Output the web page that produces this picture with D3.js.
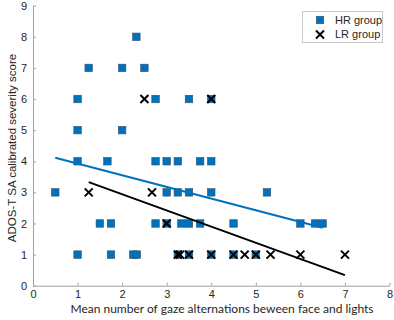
<!DOCTYPE html>
<html><head><meta charset="utf-8">
<script src="https://cdn.jsdelivr.net/npm/d3@7"></script>
<style>body{margin:0;background:#fff}svg{display:block}</style>
</head><body><svg id="c" width="394" height="320"></svg>
<script>
const hrX = [2.32, 1.25,2.0,2.5, 1.0,2.75,3.5,4.0, 1.0,2.0,
  1.0,1.67,2.75,3.0,3.25,3.75,4.0,
  0.5,3.0,3.25,3.5,4.0,5.25,
  1.5,1.75,2.75,3.0,3.33,3.5,3.75,4.5,6.0,6.33,6.5,
  1.0,1.75,2.25,2.33,3.25,3.5,4.0,4.5,5.0];
const hrY = [8, 7,7,7, 6,6,6,6, 5,5,
  4,4,4,4,4,4,4,
  3,3,3,3,3,3,
  2,2,2,2,2,2,2,2,2,2,2,
  1,1,1,1,1,1,1,1,1];
const lrX = [2.5,4.0, 1.25,2.67, 3.0, 3.25,3.3,3.5,4.0,4.5,4.75,5.0,5.33,6.0,7.0];
const lrY = [6,6, 3,3, 2, 1,1,1,1,1,1,1,1,1,1];
const hrFitX = [0.5, 6.5], hrFitY = [4.11, 1.86];
const lrFitX = [1.25, 7.0], lrFitY = [3.33, 0.34];
const xTicks = [0,1,2,3,4,5,6,7,8];
const yTicks = [0,1,2,3,4,5,6,7,8,9];
const legendLabels = ["HR group", "LR group"];

const svg = d3.select("#c");
const x = d3.scaleLinear().domain([0,8]).range([33,389.5]);
const y = d3.scaleLinear().domain([0,9]).range([285.7,5.7]);
const axCol = "#a0a0a0", txtCol = "#262626";

const xa = svg.append("g").attr("transform","translate(0,285.7)")
  .call(d3.axisBottom(x).tickValues(xTicks).tickSizeInner(-3).tickSizeOuter(0).tickPadding(5));
const ya = svg.append("g").attr("transform","translate(33,0)")
  .call(d3.axisLeft(y).tickValues(yTicks).tickSizeInner(-3).tickSizeOuter(0).tickPadding(6));
[xa,ya].forEach(a=>{
  a.select(".domain").attr("stroke",axCol).attr("stroke-width",1);
  a.selectAll(".tick line").attr("stroke",axCol);
  a.selectAll(".tick text").attr("fill",txtCol).attr("font-family","Liberation Sans, Arial, sans-serif").attr("font-size",11);
});

const blue = "#0072BD";
const hr = hrX.map((v,i)=>[v,hrY[i]]);
const lr = lrX.map((v,i)=>[v,lrY[i]]);
const s = 7.5;
svg.append("g").selectAll("rect").data(hr).join("rect")
  .attr("x",d=>x(d[0])-s/2).attr("y",d=>y(d[1])-s/2).attr("width",s).attr("height",s)
  .attr("fill",blue).attr("stroke","#35506b").attr("stroke-width",0.6);

const line = d3.line().x(d=>x(d[0])).y(d=>y(d[1]));
svg.append("path").attr("d",line(hrFitX.map((v,i)=>[v,hrFitY[i]]))).attr("stroke",blue).attr("stroke-width",2).attr("fill","none");
svg.append("path").attr("d",line(lrFitX.map((v,i)=>[v,lrFitY[i]]))).attr("stroke","#000").attr("stroke-width",2).attr("fill","none");

const h = 4;
function cross(g){
  g.append("path").attr("d",`M${-h},${-h}L${h},${h}M${-h},${h}L${h},${-h}`).attr("stroke","#000").attr("stroke-width",2).attr("fill","none");
}
svg.append("g").selectAll("g").data(lr).join("g")
  .attr("transform",d=>`translate(${x(d[0])},${y(d[1])})`).each(function(){cross(d3.select(this));});

// legend
const lg = svg.append("g");
lg.append("rect").attr("x",302.5).attr("y",11.5).attr("width",80).attr("height",31).attr("fill","#fff").attr("stroke","#c8c8c8");
lg.append("rect").attr("x",320-s/2).attr("y",20-s/2).attr("width",s).attr("height",s).attr("fill",blue).attr("stroke","#35506b").attr("stroke-width",0.6);
const cg = lg.append("g").attr("transform","translate(320,34.5)"); cross(cg);
lg.selectAll("text").data(legendLabels).join("text")
  .attr("x",335).attr("y",(d,i)=>20+i*14.5).attr("dy","0.35em")
  .attr("font-family","Liberation Sans, Arial, sans-serif").attr("font-size",11).attr("fill",txtCol).text(d=>d);

svg.append("text").attr("x",222).attr("y",313).attr("text-anchor","middle")
  .attr("font-family","Lato, sans-serif").attr("font-size",12).attr("fill",txtCol)
  .text("Mean number of gaze alternations beween face and lights");
svg.append("text").attr("transform","translate(16,148) rotate(-90)").attr("text-anchor","middle")
  .attr("font-family","Liberation Sans, Arial, sans-serif").attr("font-size",11.5).attr("fill",txtCol)
  .text("ADOS-T SA calibrated severity score");
</script></body></html>
